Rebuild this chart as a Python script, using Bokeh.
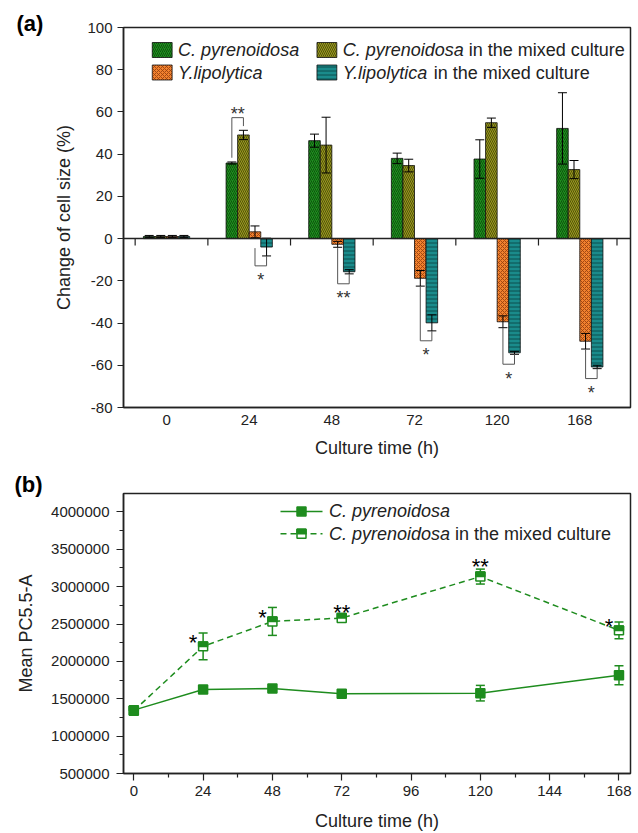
from bokeh.plotting import figure
from bokeh.models import Range1d, FixedTicker, BasicTickFormatter, Label, Span
from bokeh.layouts import column
from bokeh.embed import file_html
from bokeh.resources import INLINE
from bokeh.core.properties import value

# ---------------- data: panel (a) ----------------
times_a = ["0", "24", "48", "72", "120", "168"]
cp = [1.0, 35.8, 46.4, 38.0, 37.7, 52.2]
cp_err = [0.5, 0.5, 3.1, 2.5, 9.1, 16.9]
cp_mix = [1.0, 49.1, 44.3, 34.6, 54.9, 32.7]
cp_mix_err = [0.5, 2.2, 13.2, 3.0, 2.2, 4.3]
yl = [1.0, 3.2, -2.7, -18.8, -39.4, -48.6]
yl_err = [0.5, 2.8, 1.4, 3.7, 2.8, 3.7]
yl_mix = [1.0, -4.0, -15.7, -39.9, -54.1, -60.8]
yl_mix_err = [0.5, 4.2, 1.0, 3.8, 0.7, 0.8]
sig_upper = ["", "**", "", "", "", ""]
sig_lower = ["", "*", "**", "*", "*", "*"]
yticks_a = [-80, -60, -40, -20, 0, 20, 40, 60, 80, 100]

# ---------------- data: panel (b) ----------------
hours = [0, 24, 48, 72, 120, 168]
pc = [1348000, 1624000, 1637000, 1567000, 1575000, 1815000]
pc_err = [30000, 25000, 25000, 20000, 104000, 128000]
pc_mix = [1340000, 2201000, 2535000, 2580000, 3135000, 2415000]
pc_mix_err = [30000, 178000, 187000, 40000, 100000, 113000]
sig_b = ["", "*", "*", "**", "**", "*"]
xticks_b = [0, 24, 48, 72, 96, 120, 144, 168]
xminor_b = [12, 36, 60, 84, 108, 132, 156]
yticks_b = [500000, 1000000, 1500000, 2000000, 2500000, 3000000, 3500000, 4000000]
yminor_b = [750000, 1250000, 1750000, 2250000, 2750000, 3250000, 3750000]

FONT = "Liberation Sans"
INK = "#222222"
GREEN = "#1e8c1e"


def style(p):
    p.grid.visible = False
    p.outline_line_color = INK
    p.outline_line_width = 1.5
    p.background_fill_color = "white"
    p.border_fill_color = "white"
    for ax in p.axis:
        ax.axis_line_color = INK
        ax.axis_line_width = 1.5
        ax.major_label_text_font = FONT
        ax.major_label_text_font_size = "15px"
        ax.major_label_text_color = INK
        ax.axis_label_text_font = FONT
        ax.axis_label_text_font_size = "18px"
        ax.axis_label_text_font_style = "normal"
        ax.axis_label_text_color = INK
        ax.major_tick_line_color = INK
        ax.minor_tick_line_color = INK
        ax.major_tick_line_width = 1.2
        ax.minor_tick_line_width = 1.2
        ax.major_tick_in = 0
        ax.minor_tick_in = 0


def panel_tag(p, text, px_left, frame_left, cy_from_frame_top):
    # label placed in the top side panel so it is not clipped to the frame
    p.add_layout(Label(x=px_left - frame_left, y=-cy_from_frame_top, x_units="screen",
                       y_units="screen", text=text, text_font=FONT, text_font_size="22px",
                       text_font_style="bold", text_color="black", text_baseline="middle"),
                 "above")


# ================= panel (a) =================
FL_A, FT_A, FW_A, FH_A = 121, 27, 511, 380
XA0 = -0.521
PXU_A = 83.3
XA1 = XA0 + FW_A / PXU_A
YA0, YA1 = -80, 100


def ax_(px):
    return XA0 + (px - FL_A) / PXU_A


def ay_(py):
    return YA1 - (py - FT_A) * (YA1 - YA0) / FH_A


pa = figure(width=638, height=460, x_range=Range1d(XA0, XA1), y_range=Range1d(YA0, YA1),
            output_backend="svg", toolbar_location=None, title=None,
            min_border_left=FL_A, min_border_right=638 - FL_A - FW_A,
            min_border_top=FT_A, min_border_bottom=460 - FT_A - FH_A)
style(pa)
pa.yaxis.ticker = FixedTicker(ticks=yticks_a, minor_ticks=[])
pa.yaxis.major_label_overrides = {t: str(t) for t in yticks_a}
pa.yaxis.major_tick_out = 6
pa.yaxis.minor_tick_out = 0
pa.yaxis.major_label_standoff = 5
pa.yaxis.axis_label = "Change of cell size (%)"
pa.yaxis.axis_label_standoff = 10
pa.xaxis.ticker = FixedTicker(ticks=list(range(len(times_a))), minor_ticks=[])
pa.xaxis.major_label_overrides = {i: t for i, t in enumerate(times_a)}
pa.xaxis.major_tick_out = 0
pa.xaxis.minor_tick_out = 0
pa.xaxis.major_label_standoff = 7
pa.xaxis.axis_label = "Culture time (h)"
pa.xaxis.axis_label_standoff = 10

BW = 0.14
offs = [-1.5 * BW, -0.5 * BW, 0.5 * BW, 1.5 * BW]
series = [
    (cp, cp_err, "#1f8f1f", "#0b4d0b", "/"),
    (cp_mix, cp_mix_err, "#9b9b20", "#4a4a08", "\\"),
    (yl, yl_err, "#f2822e", "#9a4210", "x"),
    (yl_mix, yl_mix_err, "#1a8b8b", "#0a4646", "-"),
]
idx = list(range(len(times_a)))

pa.add_layout(Span(location=0, dimension="width", line_color=INK, line_width=1.5))
bounds = [-0.38] + [i + 0.5 for i in idx[:-1]] + [idx[-1] + 0.45]
pa.segment(x0=bounds, y0=[0] * len(bounds), x1=bounds, y1=[-3.3] * len(bounds),
           line_color=INK, line_width=1.2)

for (vals, errs, fc, hc, hp), off in zip(series, offs):
    xs = [i + off for i in idx]
    pa.vbar(x=xs, top=vals, bottom=0, width=BW, fill_color=fc, line_color="#111111",
            line_width=0.8, hatch_pattern=hp, hatch_color=hc, hatch_scale=4, hatch_weight=0.9)
for (vals, errs, fc, hc, hp), off in zip(series, offs):
    xs = [i + off for i in idx]
    lo = [v - e for v, e in zip(vals, errs)]
    hi = [v + e for v, e in zip(vals, errs)]
    pa.segment(x0=xs, y0=lo, x1=xs, y1=hi, line_color="black", line_width=1)
    pa.scatter(x=xs + xs, y=lo + hi, marker="dash", size=9, line_color="black", line_width=1)

# significance brackets (a)
up_xs, up_ys, up_tx, up_ty, up_t = [], [], [], [], []
for i in idx:
    if sig_upper[i]:
        xl, xr = i + offs[0], i + offs[1]
        el = cp[i] + cp_err[i]
        er = cp_mix[i] + cp_mix_err[i]
        top = max(el, er) + 6
        up_xs.append([xl, xl, xr, xr])
        up_ys.append([el + 2, top, top, er + 2])
        up_tx.append((xl + xr) / 2)
        up_ty.append(top)
        up_t.append(sig_upper[i])
lo_xs, lo_ys, lo_tx, lo_ty, lo_t = [], [], [], [], []
for i in idx:
    if sig_lower[i]:
        xl, xr = i + offs[2], i + offs[3]
        sl = min(yl[i] - yl_err[i], -4.5)
        sr = yl_mix[i] - yl_mix_err[i]
        bot = min(sl, sr) - 4.7
        lo_xs.append([xl, xl, xr, xr])
        lo_ys.append([sl, bot, bot, sr])
        lo_tx.append((xl + xr) / 2)
        lo_ty.append(bot)
        lo_t.append(sig_lower[i])
pa.multi_line(xs=up_xs + lo_xs, ys=up_ys + lo_ys, line_color="#555555", line_width=1)
pa.text(x=up_tx, y=up_ty, text=up_t, text_font=value(FONT), text_font_size="18px",
        text_color="#333333", text_align="center", text_baseline="middle", y_offset=-3.5)
pa.text(x=lo_tx, y=lo_ty, text=lo_t, text_font=value(FONT), text_font_size="18px",
        text_color="#333333", text_align="center", text_baseline="middle", y_offset=14.5)

# legend (a)
leg_names = [("C. pyrenoidosa", ""), ("C. pyrenoidosa", "in the mixed culture"),
             ("Y.lipolytica", ""), ("Y.lipolytica", "in the mixed culture")]
leg_cells = [(150, 49.5), (316, 49.5), (150, 72.0), (316, 72.0)]
italic_w = {"C. pyrenoidosa": 126, "Y.lipolytica": 91}
for (vals, errs, fc, hc, hp), (sx, sy), (it, nm) in zip(series, leg_cells, leg_names):
    pa.quad(left=[ax_(sx)], right=[ax_(sx + 20)], top=[ay_(sy - 7.5)], bottom=[ay_(sy + 7.5)],
            fill_color=fc, line_color="#111111", line_width=0.8, hatch_pattern=hp,
            hatch_color=hc, hatch_scale=4, hatch_weight=0.9)
    pa.add_layout(Label(x=ax_(sx + 26), y=ay_(sy), text=it, text_font=FONT, text_font_size="18px",
                        text_font_style="italic", text_color=INK, text_baseline="middle"))
    if nm:
        pa.add_layout(Label(x=ax_(sx + 26), y=ay_(sy), x_offset=italic_w[it], text=nm,
                            text_font=FONT, text_font_size="18px", text_color=INK,
                            text_baseline="middle"))
panel_tag(pa, "(a)", 14, FL_A, 23 - FT_A)

# ================= panel (b) =================
FL_B, FT_B, FW_B, FH_B = 123, 33, 507, 281
HB = 373
PXU_B = 2.888
XB0 = (FL_B - 133.3) / PXU_B
XB1 = XB0 + FW_B / PXU_B
YB0 = 500000
YPX = 500000 / 37.5
YB1 = YB0 + FH_B * YPX


def bx_(px):
    return XB0 + (px - FL_B) / PXU_B


def by_(py):
    return YB1 - (py - FT_B) * YPX


pb = figure(width=638, height=HB, x_range=Range1d(XB0, XB1), y_range=Range1d(YB0, YB1),
            output_backend="svg", toolbar_location=None, title=None,
            min_border_left=FL_B, min_border_right=638 - FL_B - FW_B,
            min_border_top=FT_B, min_border_bottom=HB - FT_B - FH_B)
style(pb)
pb.xaxis.ticker = FixedTicker(ticks=xticks_b, minor_ticks=xminor_b)
pb.yaxis.ticker = FixedTicker(ticks=yticks_b, minor_ticks=yminor_b)
pb.yaxis.formatter = BasicTickFormatter(use_scientific=False)
for ax in pb.axis:
    ax.major_tick_out = 7
    ax.minor_tick_out = 4
pb.yaxis.major_label_standoff = 7
pb.xaxis.major_label_standoff = 5
pb.yaxis.axis_label = "Mean PC5.5-A"
pb.yaxis.axis_label_standoff = 12
pb.xaxis.axis_label = "Culture time (h)"
pb.xaxis.axis_label_standoff = 12

MK = 9  # marker size in px
HW = (MK / 2) / PXU_B
HH = (MK / 2) * YPX


def half_filled(xs, ys):
    pb.quad(left=[x - HW for x in xs], right=[x + HW for x in xs],
            bottom=[y - HH for y in ys], top=[y + HH for y in ys],
            fill_color="white", line_color=GREEN, line_width=1.5)
    pb.quad(left=[x - HW for x in xs], right=[x + HW for x in xs],
            bottom=list(ys), top=[y + HH for y in ys],
            fill_color=GREEN, line_color=GREEN, line_width=1.5)


pb.line(hours, pc_mix, line_color=GREEN, line_width=1.5, line_dash="6 4")
pb.line(hours, pc, line_color=GREEN, line_width=1.5)
for vals, errs in ((pc_mix, pc_mix_err), (pc, pc_err)):
    lo = [v - e for v, e in zip(vals, errs)]
    hi = [v + e for v, e in zip(vals, errs)]
    pb.segment(x0=hours, y0=lo, x1=hours, y1=hi, line_color=GREEN, line_width=1.5)
    pb.scatter(x=hours + hours, y=lo + hi, marker="dash", size=9, line_color=GREEN, line_width=1.5)
half_filled(hours, pc_mix)
pb.scatter(hours, pc, marker="square", size=MK, fill_color=GREEN, line_color=GREEN, line_width=1.5)

# significance (b)
s_x = [h for h, s in zip(hours, sig_b) if s == "*"]
s_y = [v for v, s in zip(pc_mix, sig_b) if s == "*"]
d_x = [h for h, s in zip(hours, sig_b) if s == "**"]
d_y = [v + e for v, e, s in zip(pc_mix, pc_mix_err, sig_b) if s == "**"]
pb.text(x=s_x, y=s_y, text=["*"] * len(s_x), text_font=value(FONT), text_font_size="22px",
        text_color="black", text_align="center", text_baseline="middle", x_offset=-10, y_offset=-3.5)
pb.text(x=d_x, y=d_y, text=["**"] * len(d_x), text_font=value(FONT), text_font_size="22px",
        text_color="black", text_align="center", text_baseline="middle", y_offset=-3)

# legend (b)
r1, r2 = by_(511 - 460), by_(533.3 - 460)
pb.line([bx_(280), bx_(322)], [r1, r1], line_color=GREEN, line_width=1.5)
pb.scatter([bx_(301)], [r1], marker="square", size=MK, fill_color=GREEN, line_color=GREEN, line_width=1.5)
pb.line([bx_(280), bx_(322)], [r2, r2], line_color=GREEN, line_width=1.5, line_dash="6 4")
half_filled([bx_(301)], [r2])
for ry, nm in ((r1, ""), (r2, "in the mixed culture")):
    pb.add_layout(Label(x=bx_(328.5), y=ry, text="C. pyrenoidosa", text_font=FONT,
                        text_font_size="18px", text_font_style="italic", text_color=INK,
                        text_baseline="middle"))
    if nm:
        pb.add_layout(Label(x=bx_(328.5), y=ry, x_offset=126, text=nm, text_font=FONT,
                            text_font_size="18px", text_color=INK, text_baseline="middle"))
panel_tag(pb, "(b)", 14, FL_B, (484 - 460) - FT_B)

layout = column(pa, pb, spacing=0)
open("out.html", "w").write(file_html(layout, INLINE))
